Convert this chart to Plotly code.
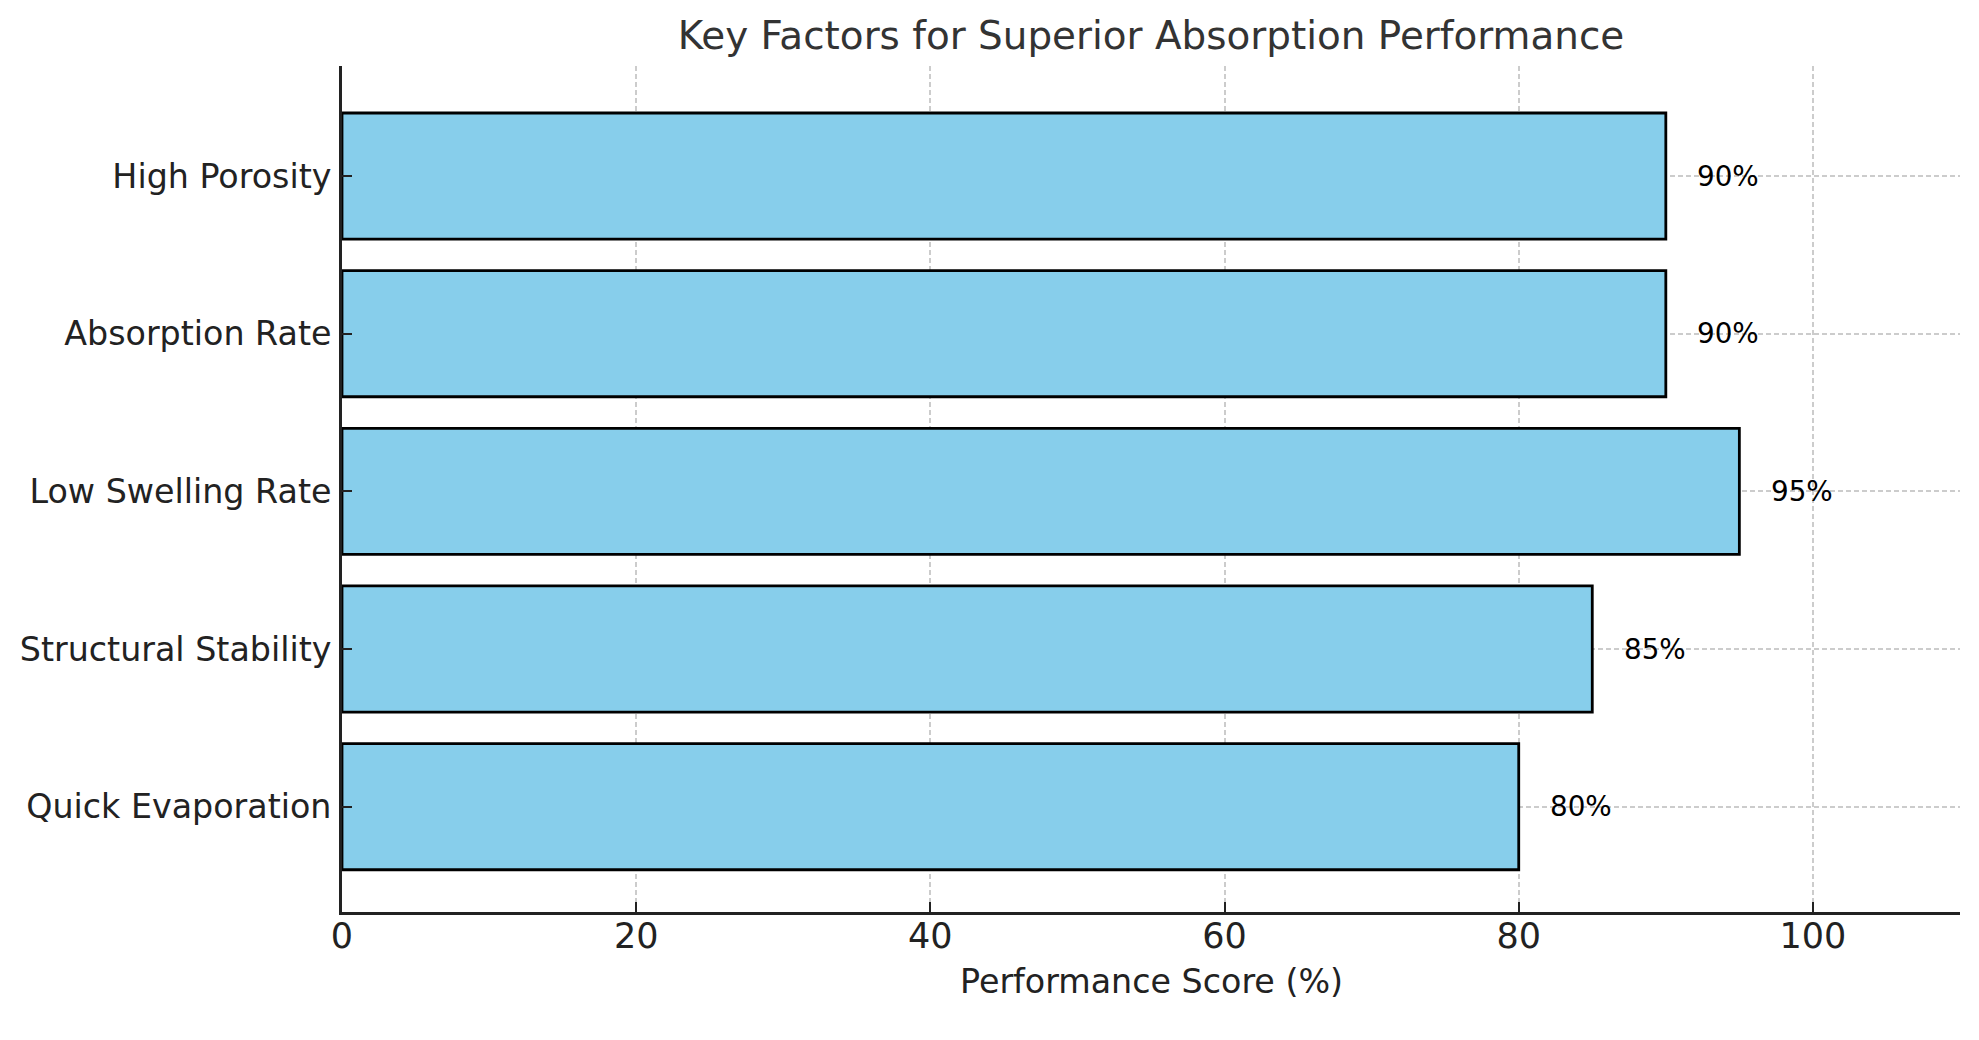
import plotly.graph_objects as go

factors = ["Quick Evaporation", "Structural Stability", "Low Swelling Rate",
           "Absorption Rate", "High Porosity"]
scores = [80, 85, 95, 90, 90]
x_ticks = [0, 20, 40, 60, 80, 100]

FONT = "DejaVu Sans"

fig = go.Figure()
fig.add_trace(go.Bar(
    y=factors, x=scores, orientation="h", width=0.8,
    marker=dict(color="#87CEEB", line=dict(color="#000000", width=2.8)),
    hoverinfo="skip", showlegend=False,
))

annotations = []
for f, s in zip(factors, scores):
    annotations.append(dict(
        x=s + 2, y=f, xref="x", yref="y", text=f"{s}%", showarrow=False,
        xanchor="left", yanchor="middle", font=dict(family=FONT, size=27.8, color="#000000"),
    ))
annotations.append(dict(
    x=0.5, y=0, xref="paper", yref="paper", text="Performance Score (%)",
    showarrow=False, xanchor="center", yanchor="middle", yshift=-69,
    font=dict(family=FONT, size=33.3, color="#222222"),
))

fig.update_layout(
    width=1979, height=1040,
    margin=dict(l=342, r=19, t=66, b=128, pad=0),
    paper_bgcolor="white", plot_bgcolor="white",
    font=dict(family=FONT, color="#222222"),
    title=dict(text="Key Factors for Superior Absorption Performance",
               x=0.5, xref="paper", xanchor="center",
               y=1 - 35 / 1040, yref="container", yanchor="middle",
               font=dict(family=FONT, size=38.9, color="#333333")),
    annotations=annotations,
    bargap=0.2,
)

fig.update_xaxes(
    range=[0, 110], tickvals=x_ticks, ticktext=[str(v) for v in x_ticks],
    ticks="inside", ticklen=10, tickwidth=2, tickcolor="#222222",
    showline=True, linecolor="#222222", linewidth=2.8, mirror=False,
    showgrid=True, gridcolor="#cccccc", gridwidth=1.5, griddash="5px,3px",
    tickfont=dict(family=FONT, size=35, color="#222222"),
    ticklabelstandoff=-9, zeroline=False, layer="above traces",
)
fig.update_yaxes(
    type="category", categoryorder="array", categoryarray=factors,
    range=[-0.668, 4.698],
    ticks="inside", ticklen=10, tickwidth=2, tickcolor="#222222",
    showline=True, linecolor="#222222", linewidth=2.8,
    showgrid=True, gridcolor="#cccccc", gridwidth=1.5, griddash="5px,3px",
    tickfont=dict(family=FONT, size=33.3, color="#222222"),
    ticklabelstandoff=1, zeroline=False, layer="above traces",
)

fig.write_html("out.html")
